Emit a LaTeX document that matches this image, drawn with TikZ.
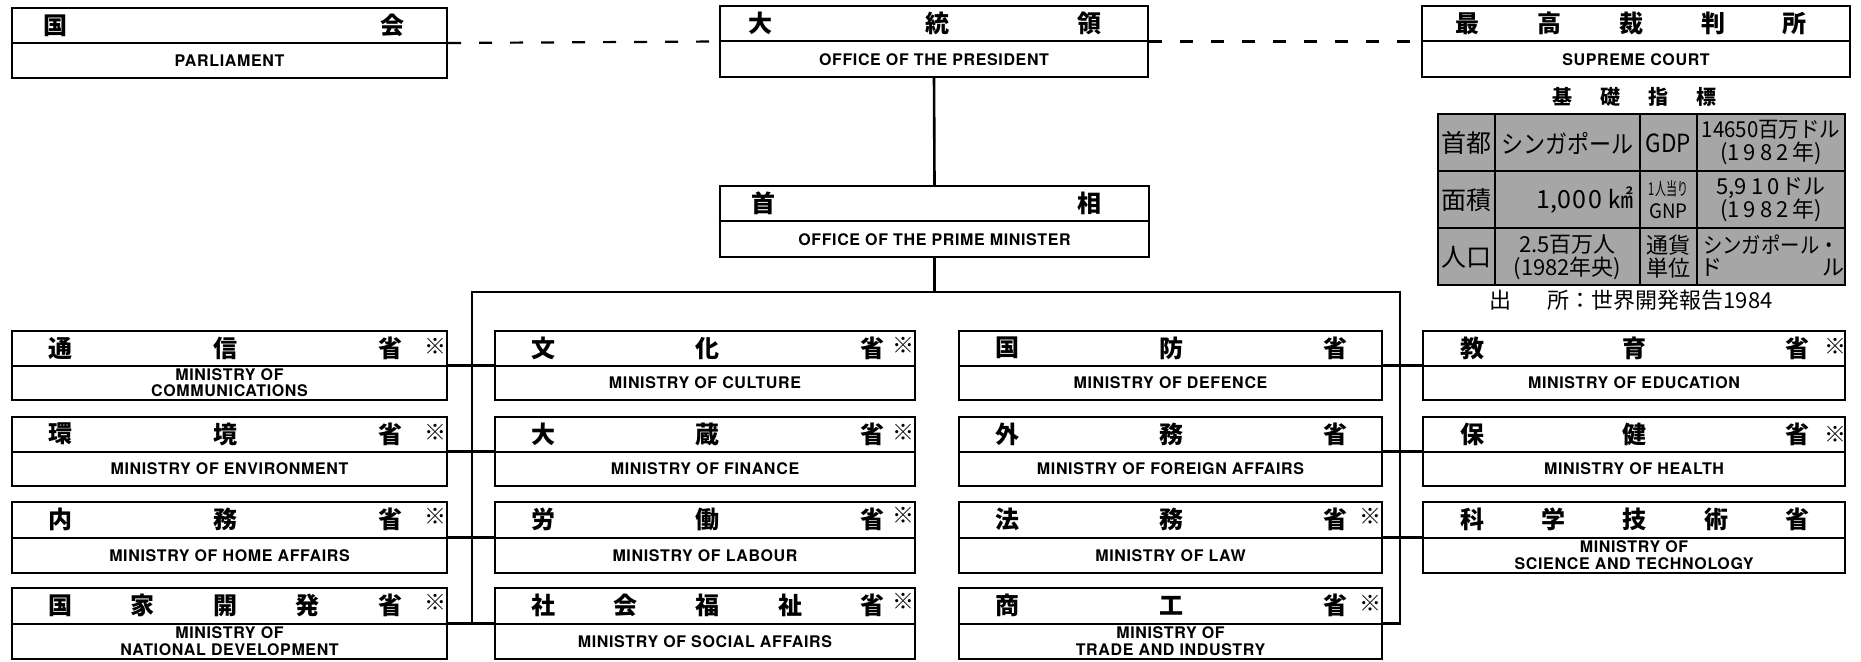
\documentclass[tikz,border=0pt]{standalone}
\usepackage{fontspec}
\usepackage{graphicx}
\usetikzlibrary{fit,calc}
\newfontfamily\enfont[LetterSpace=4]{TeX Gyre Heros}
\newfontfamily\jpfont{Noto Sans CJK JP}
\tikzset{
  boxshape/.style={draw, line width=1.1pt, inner sep=0pt, fill=white},
  divider/.style={line width=1pt},
  entext/.style={font=\enfont\bfseries\fontsize{8}{8.3}\selectfont, align=center, inner sep=0pt},
  jpch/.style={font=\jpfont\bfseries\fontsize{12}{12}\selectfont, inner sep=0pt},
  starmark/.style={font=\jpfont\bfseries\fontsize{11}{11}\selectfont, inner sep=0pt},
  conn/.style={line width=1.3pt},
  dashconn/.style={line width=1.1pt, dash pattern=on 6.5pt off 9pt},
  cellfill/.style={fill=black!35},
  tline/.style={line width=1.1pt},
  tsingle/.style={font=\jpfont\fontsize{12.5}{12.5}\selectfont, inner sep=0pt},
  tdouble/.style={font=\jpfont\fontsize{11}{11.5}\selectfont, inner sep=0pt, align=center},
  headtext/.style={font=\jpfont\bfseries\fontsize{10}{10}\selectfont, inner sep=0pt},
}
% name, x1, y1, x2, y2, english, {x/char list}
\newcommand\govbox[7]{%
  \node[boxshape, fit={(#2,#3) (#4,#5)}] (#1) {};
  \draw[divider] (#1.west) -- (#1.east);
  \node[entext] (#1-en) at ({(#2+#4)/2}, {#3+(#5-#3)*0.75}) {#6};
  \foreach \xx/\jc [count=\cnt] in {#7} {
    \node[jpch] (#1-j\cnt) at (\xx, {#3+(#5-#3)*0.25}) {\jc};
  }%
}
\newcommand\govstar[3]{\node[starmark] (#1-s) at (#2,#3) {※};}
\begin{document}
\begin{tikzpicture}[x=0.5pt,y=-0.5pt]
\fill[white] (0,0) rectangle (1861,662);
\useasboundingbox (0,0) rectangle (1861,662);

% top row
\govbox{parl}{12}{8}{447}{78}{PARLIAMENT}{55/国, 392/会}
\govbox{pres}{720}{6}{1148}{77}{OFFICE OF THE PRESIDENT}{760/大, 937/統, 1089/領}
\govbox{sc}{1422}{6}{1850}{77}{SUPREME COURT}{1467/最, 1549/高, 1631/裁, 1713/判, 1794/所}
\govbox{pm}{720}{186}{1149}{257}{OFFICE OF THE PRIME MINISTER}{763/首, 1089/相}

% column 1
\govbox{m11}{12}{331}{447}{400}{MINISTRY OF\\COMMUNICATIONS}{60/通, 225/信, 390/省}
\govbox{m12}{12}{417}{447}{486}{MINISTRY OF ENVIRONMENT}{60/環, 225/境, 390/省}
\govbox{m13}{12}{502}{447}{573}{MINISTRY OF HOME AFFAIRS}{60/内, 225/務, 390/省}
\govbox{m14}{12}{588}{447}{659}{MINISTRY OF\\NATIONAL DEVELOPMENT}{60/国, 142.5/家, 225/開, 307.5/発, 390/省}
\govstar{m11}{435}{346}
\govstar{m12}{435}{432}
\govstar{m13}{435}{516}
\govstar{m14}{435}{602}

% column 2
\govbox{m21}{495}{331}{915}{400}{MINISTRY OF CULTURE}{543/文, 707.5/化, 872/省}
\govbox{m22}{495}{417}{915}{486}{MINISTRY OF FINANCE}{543/大, 707.5/蔵, 872/省}
\govbox{m23}{495}{502}{915}{573}{MINISTRY OF LABOUR}{543/労, 707.5/働, 872/省}
\govbox{m24}{495}{588}{915}{659}{MINISTRY OF SOCIAL AFFAIRS}{543/社, 625/会, 707.5/福, 790/祉, 872/省}
\govstar{m21}{903}{345}
\govstar{m22}{903}{432}
\govstar{m23}{903}{515}
\govstar{m24}{903}{601}

% column 3
\govbox{m31}{959}{331}{1382}{400}{MINISTRY OF DEFENCE}{1007/国, 1171/防, 1335/省}
\govbox{m32}{959}{417}{1382}{486}{MINISTRY OF FOREIGN AFFAIRS}{1007/外, 1171/務, 1335/省}
\govbox{m33}{959}{502}{1382}{573}{MINISTRY OF LAW}{1007/法, 1171/務, 1335/省}
\govbox{m34}{959}{588}{1382}{659}{MINISTRY OF\\TRADE AND INDUSTRY}{1007/商, 1171/工, 1335/省}
\govstar{m33}{1370}{516}
\govstar{m34}{1370}{603}

% column 4
\govbox{m41}{1423}{331}{1845}{400}{MINISTRY OF EDUCATION}{1472/教, 1634.5/育, 1797/省}
\govbox{m42}{1423}{417}{1845}{486}{MINISTRY OF HEALTH}{1472/保, 1634.5/健, 1797/省}
\govbox{m43}{1423}{502}{1845}{573}{MINISTRY OF\\SCIENCE AND TECHNOLOGY}{1472/科, 1553/学, 1634.5/技, 1716/術, 1797/省}
\govstar{m41}{1835}{346}
\govstar{m42}{1835}{434}

% connectors
\coordinate (busL) at (472,292);
\coordinate (busR) at (1400,292);
\draw[dashconn] (parl.east) -- (pres.west);
\draw[dashconn] (pres.east) -- (sc.west);
\draw[conn] (pres.south) -- (pm.north);
\draw[conn] (pm.south) -- (pm.south |- busL);
\draw[conn] (m14.east) -| (busL) -- (busR) |- (m34.east);
\draw[conn] (m11.east) -- (m21.west);
\draw[conn] (m12.east) -- (m22.west);
\draw[conn] (m13.east) -- (m23.west);
\draw[conn] (m14.east) -- (m24.west);
\draw[conn] (m31.east) -- (m41.west);
\draw[conn] (m32.east) -- (m42.west);
\draw[conn] (m33.east) -- (m43.west);

% basic indicators table
\node[headtext] (thead) at (1634,97) {基\hspace{14pt}礎\hspace{14pt}指\hspace{14pt}標};
\fill[cellfill] (1438,114) rectangle (1845,285);
\draw[tline] (1438,114) rectangle (1845,285);
\foreach \yy in {171,228} \draw[tline] (1438,\yy) -- (1845,\yy);
\foreach \xx in {1495,1640,1697} \draw[tline] (\xx,114) -- (\xx,285);

\node[tsingle] (t11) at (1466.5,143) {首都};
\node[tsingle] (t12) at (1567.5,143) {\scalebox{0.88}[1]{シンガポール}};
\node[tsingle] (t13) at (1668.5,143) {\scalebox{0.9}[1]{GDP}};
\node[tdouble] (t14) at (1771,143) {\scalebox{0.93}[1]{14650百万ドル}\\(1\kern2pt 9\kern2pt 8\kern2pt 2\kern2pt 年)};

\node[tsingle] (t21) at (1466.5,200) {面積};
\node[tsingle, anchor=east] (t22) at (1634,200) {1,0\kern1pt 0\kern1pt 0\kern3pt ㎢};
\node[tdouble] (t23) at (1668.5,200) {\scalebox{0.5}[0.8]{1人当り}\\\scalebox{0.85}[0.9]{GNP}};
\node[tdouble] (t24) at (1771,200) {5,9\kern2pt 1\kern2pt 0\kern1pt ドル\\(1\kern2pt 9\kern2pt 8\kern2pt 2\kern2pt 年)};

\node[tsingle] (t31) at (1466.5,257) {人口};
\node[tdouble] (t32) at (1567.5,257) {2.5百万人\\(1982年央)};
\node[tdouble] (t33) at (1668.5,257) {通貨\\単位};
\node[tdouble] (t34) at (1771,245) {\scalebox{0.88}[1]{シンガポール・}};
\node[tdouble] (t35) at (1711,268) {ド};
\node[tdouble] (t36) at (1833,268) {ル};

\node[font=\jpfont\fontsize{11}{11}\selectfont, inner sep=0pt] (src) at (1631,300) {出\hspace{18pt}所：世界開発報告1984};
\end{tikzpicture}
\end{document}
